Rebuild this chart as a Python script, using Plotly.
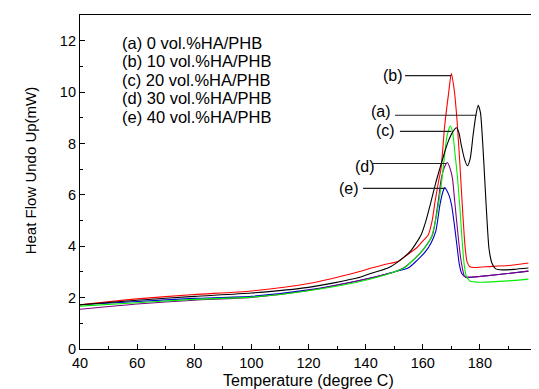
import plotly.graph_objects as go

# ---- data ----
x_a = [40, 60, 80, 100, 120, 137, 142, 147.8, 152, 156, 159.4, 161, 162.9, 164.5, 166, 167.5, 169, 170.5,
       171.8, 172.7, 173.5, 174.6, 175.6, 176.6, 177.6, 178.6, 179.4, 180.2, 181, 181.8, 182.5, 183.2,
       184.2, 185.5, 188, 192, 197]
y_a = [1.72, 1.9, 2.05, 2.18, 2.4, 2.76, 2.95, 3.15, 3.45, 3.85, 4.44, 4.95, 5.74, 6.45, 7.03, 7.6, 8.1, 8.45,
       8.61, 8.4, 7.93, 7.4, 7.13, 7.4, 8.3, 9.1, 9.49, 9.2, 8.0, 6.4, 5.0, 3.9,
       3.35, 3.12, 3.08, 3.1, 3.15]

x_b = [40, 60, 80, 100, 120, 137, 142, 147, 151.3, 155, 158, 160, 161.9, 163.3, 164.3, 165.5, 166.4, 167.7,
       169.1, 170, 171, 172, 173, 174, 174.8, 175.5, 176.5, 178, 182, 190, 197]
y_b = [1.72, 1.95, 2.12, 2.26, 2.55, 2.99, 3.15, 3.3, 3.41, 3.7, 3.95, 4.2, 4.44, 5.0, 5.74, 6.5, 7.03, 8.71,
       10.0, 10.72, 10.1, 8.9, 7.2, 5.3, 4.0, 3.4, 3.2, 3.17, 3.2, 3.25, 3.35]

x_c = [40, 60, 80, 100, 120, 137, 145, 150, 153.5, 157, 160, 163, 165, 166.5, 167.5, 168.5, 169.7, 170.5,
       171.3, 172.2, 173, 173.8, 174.5, 175.2, 176.5, 180, 190, 197]
y_c = [1.67, 1.8, 1.93, 2.02, 2.27, 2.6, 2.82, 3.0, 3.15, 3.5, 3.85, 4.35, 5.3, 6.4, 7.4, 8.3, 8.68, 8.4,
       7.6, 6.64, 5.5, 4.2, 3.3, 2.85, 2.65, 2.6, 2.65, 2.72]

x_d = [40, 60, 80, 100, 120, 137, 145, 150, 153.2, 157, 160, 163.4, 165.4, 166.5, 167.7, 168.6, 169.5,
       170.4, 171.2, 172.2, 173.2, 173.8, 174.7, 177, 185, 197]
y_d = [1.55, 1.75, 1.9, 2.01, 2.28, 2.65, 2.85, 3.0, 3.15, 3.5, 3.85, 4.44, 5.74, 6.64, 7.1, 7.26, 7.05,
       6.64, 5.74, 4.6, 3.6, 3.2, 2.82, 2.8, 2.88, 3.03]

x_e = [40, 60, 80, 100, 120, 137, 145, 150, 154.9, 158, 161, 163, 164.6, 166, 167, 167.7, 168.5, 169.3,
       170.1, 171, 172, 172.8, 173.6, 175.2, 178, 185, 197]
y_e = [1.72, 1.85, 1.97, 2.05, 2.3, 2.65, 2.85, 3.0, 3.15, 3.45, 3.8, 4.15, 4.6, 5.6, 6.1, 6.28, 6.15, 5.95,
       5.6, 4.9, 4.0, 3.3, 2.95, 2.78, 2.8, 2.88, 3.03]

series_labels = ["(a) 0 vol.%HA/PHB", "(b) 10 vol.%HA/PHB", "(c) 20 vol.%HA/PHB",
                 "(d) 30 vol.%HA/PHB", "(e) 40 vol.%HA/PHB"]
short_labels = ["(a)", "(b)", "(c)", "(d)", "(e)"]
colors = ["#000000", "#ff0000", "#00ee00", "#800080", "#0000cc"]

x_ticks = [40, 60, 80, 100, 120, 140, 160, 180, 200]
y_ticks = [0, 2, 4, 6, 8, 10, 12]

x_title = "Temperature (degree C)"
y_title = "Heat Flow Undo Up(mW)"

xs = [x_a, x_b, x_c, x_d, x_e]
ys = [y_a, y_b, y_c, y_d, y_e]

fig = go.Figure()
for i in [4, 3, 2, 1, 0]:
    fig.add_trace(go.Scatter(x=xs[i], y=ys[i], mode="lines", name=series_labels[i],
                             line=dict(color=colors[i], width=1.1, shape="spline", smoothing=0.6),
                             showlegend=False))

font_family = "Liberation Sans, Arial, sans-serif"

# text legend (no symbols) in the upper-left
for i, t in enumerate(series_labels):
    fig.add_annotation(x=54.0, y=11.92 - i * 0.718, xref="x", yref="y", text=t, showarrow=False,
                       xanchor="left", yanchor="middle", font=dict(size=16.5, color="black", family=font_family))

# peak labels with leader lines
label_pos = {  # label x, y ; line start x, line end x, line y
    "(b)": (149.6, 10.64, 153.8, 170.0, 10.64),
    "(a)": (145.4, 9.24, 150.3, 178.8, 9.10),
    "(c)": (147.1, 8.50, 152.0, 170.0, 8.47),
    "(d)": (139.8, 7.12, 142.6, 168.2, 7.22),
    "(e)": (134.2, 6.25, 139.1, 167.8, 6.25),
}
for lab in short_labels:
    lx, ly, x0, x1, yl = label_pos[lab]
    fig.add_annotation(x=lx, y=ly, xref="x", yref="y", text=lab, showarrow=False,
                       xanchor="center", yanchor="middle", font=dict(size=16, color="black", family=font_family))
    fig.add_shape(type="line", x0=x0, x1=x1, y0=yl, y1=yl, xref="x", yref="y",
                  line=dict(color="#222222", width=1.1))

# right frame edge drawn grey as in the reference
fig.add_shape(type="line", x0=1, x1=1, y0=0, y1=1, xref="paper", yref="paper",
              line=dict(color="#808080", width=2))

# axis titles placed as in the reference
fig.add_annotation(x=0.5, y=0, xref="paper", yref="paper", yshift=-31, text=x_title, showarrow=False,
                   xanchor="center", yanchor="middle", font=dict(size=16, color="black", family=font_family))
fig.add_annotation(x=0, y=0.535, xref="paper", yref="paper", xshift=-50, text=y_title, showarrow=False,
                   textangle=-90, xanchor="center", yanchor="middle",
                   font=dict(size=15, color="black", family=font_family))

axis_common = dict(showline=True, linecolor="black", linewidth=1.2, showgrid=False,
                   zeroline=False, ticks="inside", ticklen=5, tickwidth=1, tickcolor="black",
                   tickfont=dict(size=14.5, color="black", family=font_family), automargin=False)

fig.update_xaxes(range=[40, 200], tickvals=x_ticks, mirror=True,
                 minor=dict(dtick=10, ticks="inside", ticklen=3, tickcolor="black", tickwidth=1),
                 **axis_common)
fig.update_yaxes(range=[0, 13], tickvals=y_ticks, mirror=False,
                 minor=dict(dtick=1, ticks="inside", ticklen=3, tickcolor="black", tickwidth=1),
                 **axis_common)

fig.update_layout(width=539, height=389, margin=dict(l=72, r=10, t=7, b=48),
                  plot_bgcolor="white", paper_bgcolor="white", showlegend=False)

fig.write_html("out.html")
